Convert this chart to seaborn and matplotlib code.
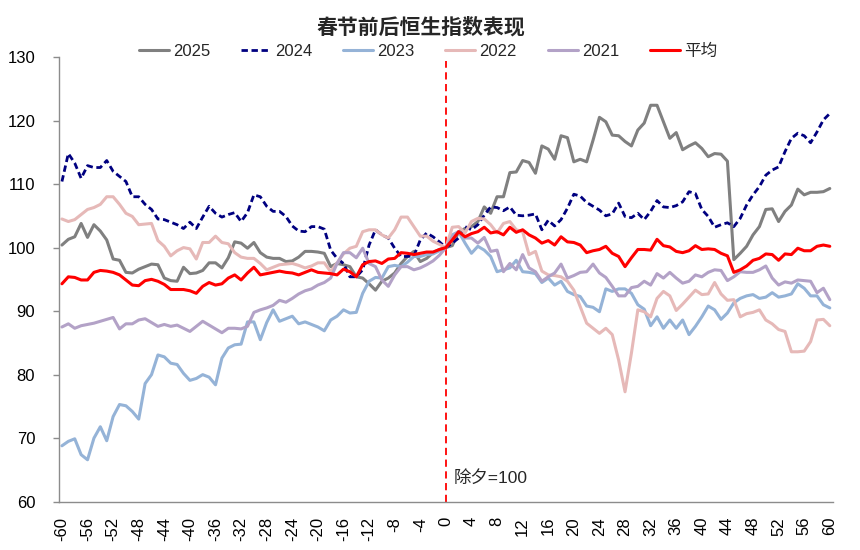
import numpy as np
import pandas as pd
import matplotlib
matplotlib.use("Agg")
import matplotlib.pyplot as plt
import seaborn as sns

# days around Chinese New Year's Eve (0 = 除夕)
days = list(range(-60, 61))

hsi_2025 = [
    100.4, 101.3, 101.7, 103.8, 101.6, 103.6, 102.6, 101.2, 98.2, 98.0,
    96.1, 96.0, 96.6, 97.0, 97.4, 97.3, 95.2, 94.8, 94.7, 96.9,
    95.9, 96.0, 96.4, 97.6, 97.6, 96.8, 98.4, 100.9, 100.7, 99.9,
    100.8, 99.2, 98.5, 98.3, 98.3, 97.8, 97.9, 98.5, 99.4, 99.4,
    99.3, 99.1, 97.0, 97.5, 97.3, 97.0, 95.4, 95.2, 94.3, 93.3,
    94.7, 95.2, 96.0, 97.5, 98.6, 99.4, 97.8, 98.3, 99.2, 99.7,
    100.0, 100.3, 102.5, 103.0, 103.3, 104.1, 106.4, 105.4, 108.0, 108.0,
    111.8, 111.9, 113.7, 113.4, 111.7, 116.0, 115.5, 113.9, 117.6, 117.3,
    113.5, 113.9, 113.5, 116.9, 120.5, 119.8, 117.7, 117.6, 116.7, 116.0,
    118.5, 119.6, 122.4, 122.4, 119.8, 117.2, 118.1, 115.4, 116.0, 116.5,
    115.6, 114.3, 114.8, 114.7, 113.6, 98.1, 99.1, 100.2, 102.0, 103.3,
    106.0, 106.1, 104.1, 105.7, 106.7, 109.2, 108.3, 108.7, 108.7, 108.8,
    109.3,
]

hsi_2024 = [
    110.4, 114.8, 113.3, 110.9, 112.9, 112.6, 112.6, 113.7, 112.0, 111.2,
    110.4, 108.0, 108.0, 106.8, 106.0, 104.5, 104.4, 104.0, 103.6, 103.0,
    104.0, 103.0, 104.8, 106.5, 105.4, 104.8, 105.2, 105.5, 104.1, 105.5,
    108.3, 108.0, 106.5, 105.7, 105.7, 104.9, 103.4, 102.6, 102.5, 103.3,
    103.3, 102.9, 99.6, 98.3, 97.5, 95.4, 95.4, 96.5, 100.4, 102.8,
    102.0, 101.5, 99.9, 98.6, 98.6, 98.7, 101.2, 102.3, 101.7, 100.9,
    100.0, 100.7, 101.5, 103.3, 102.8, 103.6, 105.1, 106.4, 106.3, 105.8,
    106.4, 105.1, 105.0, 105.1, 105.3, 102.8, 104.3, 103.4, 104.4, 106.2,
    108.4, 108.1, 107.1, 106.5, 105.9, 105.0, 105.3, 107.0, 104.9, 104.7,
    105.4, 104.4, 105.7, 107.4, 106.4, 106.3, 106.6, 107.2, 108.8, 108.5,
    106.0, 104.9, 103.2, 103.6, 103.9, 103.3, 104.6, 106.7, 108.3, 109.6,
    111.4, 112.2, 112.7, 115.1, 117.2, 118.0, 117.6, 116.5, 118.2, 120.1,
    121.1,
]

hsi_2023 = [
    68.8, 69.5, 69.9, 67.4, 66.6, 70.0, 71.8, 69.6, 73.4, 75.3,
    75.1, 74.2, 73.0, 78.6, 80.0, 83.1, 82.8, 81.8, 81.6, 80.2,
    79.1, 79.4, 80.0, 79.6, 78.4, 82.6, 84.2, 84.7, 84.8, 88.3,
    88.3, 85.5, 88.2, 90.2, 88.4, 88.8, 89.2, 88.0, 88.3, 87.9,
    87.5, 86.9, 88.6, 89.2, 90.2, 89.7, 89.8, 92.8, 94.7, 95.3,
    95.2, 97.0, 97.2, 97.0, 97.7, 98.6, 98.6, 98.9, 99.0, 99.5,
    100.0, 102.0, 102.5, 100.7, 99.1, 100.2, 99.6, 98.6, 96.2, 96.5,
    96.8, 98.0, 96.2, 96.1, 95.9, 94.5, 95.2, 94.1, 94.7, 93.1,
    92.6, 92.3, 90.8, 90.6, 89.9, 93.5, 93.1, 93.5, 93.5, 92.8,
    91.0, 90.3, 87.7, 89.1, 87.3, 88.6, 87.3, 88.6, 86.3, 87.6,
    89.1, 90.8, 90.2, 88.7, 89.7, 91.3, 92.0, 92.4, 92.6, 92.0,
    92.2, 92.9, 92.2, 92.4, 92.7, 94.3, 93.6, 92.4, 92.4, 91.0,
    90.5,
]

hsi_2022 = [
    104.5, 104.1, 104.4, 105.2, 106.0, 106.3, 106.8, 108.0, 108.0, 106.8,
    105.4, 104.9, 103.6, 103.7, 103.8, 101.1, 100.2, 98.7, 99.5, 100.0,
    99.8, 98.2, 100.8, 100.8, 101.8, 100.8, 100.6, 99.2, 98.5, 98.3,
    98.3, 97.5, 96.5, 96.9, 97.3, 97.4, 97.5, 97.2, 96.8, 97.1,
    97.6, 97.6, 96.2, 97.6, 99.0, 99.9, 100.2, 102.5, 102.8, 102.8,
    102.0, 101.5, 102.8, 104.8, 104.8, 103.3, 101.8, 101.8, 101.0, 100.5,
    100.0, 103.2, 103.3, 102.3, 104.1, 104.6, 104.5, 103.6, 102.3, 103.8,
    104.1, 102.8, 102.5, 98.9, 99.4, 96.3, 95.7, 95.6, 95.4, 94.7,
    93.3, 90.7, 88.1, 87.3, 86.5, 87.3, 86.3, 82.3, 77.3, 83.4,
    90.2, 89.9, 89.1, 92.0, 93.1, 92.4, 90.1, 91.1, 92.2, 93.3,
    92.6, 92.7, 94.5, 92.7, 91.7, 91.8, 89.1, 89.6, 89.8, 90.2,
    88.6, 88.0, 87.1, 86.8, 83.6, 83.6, 83.7, 85.2, 88.6, 88.7,
    87.7,
]

hsi_2021 = [
    87.5, 88.0, 87.3, 87.7, 87.9, 88.1, 88.4, 88.7, 89.0, 87.2,
    88.0, 88.0, 88.6, 88.8, 88.2, 87.6, 87.9, 87.6, 87.8, 87.3,
    86.8, 87.6, 88.4, 87.8, 87.2, 86.6, 87.3, 87.3, 87.2, 87.6,
    89.8, 90.2, 90.5, 90.9, 91.7, 91.4, 92.0, 92.7, 93.2, 93.5,
    94.1, 94.5, 95.2, 97.5, 99.2, 99.2, 98.4, 99.9, 97.5, 97.0,
    94.9, 93.9, 95.7, 97.0, 97.0, 96.5, 96.8, 97.3, 97.9, 98.8,
    100.0, 101.7, 102.5, 101.5, 101.5, 100.7, 101.6, 99.4, 99.6, 96.2,
    97.5, 96.5, 98.9, 96.8, 96.2, 94.7, 95.4, 96.0, 97.4, 95.2,
    95.6, 96.1, 96.2, 97.4, 96.0, 95.3, 93.9, 92.4, 92.4, 93.7,
    93.9, 94.7, 94.1, 95.9, 95.2, 96.1, 95.2, 94.4, 94.7, 95.7,
    95.4, 96.1, 96.5, 96.4, 94.8, 95.4, 96.2, 96.1, 96.1, 96.5,
    97.1, 95.2, 94.1, 94.6, 94.4, 94.9, 94.8, 94.7, 92.9, 93.6,
    91.8,
]

hsi_avg = [
    94.3, 95.4, 95.3, 94.9, 94.9, 96.1, 96.4, 96.3, 96.1, 95.7,
    94.9, 94.1, 94.0, 94.8, 95.0, 94.7, 94.2, 93.4, 93.4, 93.4,
    93.2, 92.8, 93.9, 94.5, 94.1, 94.3, 95.2, 95.7, 94.9, 96.0,
    96.9, 95.7, 95.9, 96.1, 96.3, 96.1, 96.0, 95.7, 96.1, 96.5,
    96.1, 96.0, 95.9, 95.7, 96.6, 96.2, 95.4, 97.3, 97.8, 97.9,
    97.5, 98.2, 98.3, 99.2, 99.1, 98.9, 99.1, 99.3, 99.3, 99.7,
    100.0, 101.2, 102.5, 101.7, 102.2, 102.5, 103.2, 102.3, 102.5, 102.0,
    103.2, 102.4, 102.8, 102.0, 101.5, 100.7, 101.1, 100.4, 101.7, 100.9,
    100.8, 100.4, 99.2, 99.5, 99.7, 100.2, 99.1, 98.6, 97.0, 98.4,
    99.7, 99.7, 99.6, 101.3, 100.3, 100.1, 99.4, 99.2, 99.5, 100.3,
    99.7, 99.8, 99.7, 99.1, 98.7, 96.1, 96.5, 97.1, 98.0, 98.3,
    99.0, 98.9, 98.0, 99.0, 98.9, 99.9, 99.5, 99.5, 100.2, 100.4,
    100.2,
]

series_names = ["2025", "2024", "2023", "2022", "2021", "平均"]
series_values = [hsi_2025, hsi_2024, hsi_2023, hsi_2022, hsi_2021, hsi_avg]
colors = ["#808080", "#000080", "#95B3D7", "#E6B9B8", "#B3A2C7", "#FF0000"]

x_ticks = list(range(-60, 61, 4))
y_ticks = list(range(60, 131, 10))

df = pd.DataFrame({"day": days})
for name, vals in zip(series_names, series_values):
    df[name] = vals
long_df = df.melt(id_vars="day", var_name="series", value_name="value")

sns.set_theme(style="white")
plt.rcParams["font.family"] = ["Liberation Sans", "Noto Sans CJK SC", "DejaVu Sans"]
plt.rcParams["axes.unicode_minus"] = False

fig = plt.figure(figsize=(8.6, 5.5), dpi=100)
ax = fig.add_axes([0.0683, 0.0878, 0.9003, 0.8086])

# reference line at New Year's Eve
ax.axvline(0, ymin=0, ymax=0.99, color="#FF0000", lw=1.3,
           ls=(0, (4, 2.5)), zorder=1.5)

for i, (name, color) in enumerate(zip(series_names, colors)):
    sub = long_df[long_df["series"] == name]
    ls = (0, (2.3, 1.3)) if name == "2024" else "-"
    sns.lineplot(data=sub, x="day", y="value", color=color,
                 lw=2.0 if name == "2024" else 2.2,
                 linestyle=ls, label=name, errorbar=None, ax=ax,
                 zorder=2 + i * 0.1)

handles, labels = ax.get_legend_handles_labels()
ax.get_legend().remove()
fig.legend(handles, labels, loc="center", bbox_to_anchor=(0.4977, 0.907),
           ncol=6, frameon=False, fontsize=12, handlelength=1.8,
           handletextpad=0.25, columnspacing=1.85)

ax.set_xlim(-60.5, 60.5)
ax.set_ylim(60, 130)
ax.set_xticks(x_ticks)
ax.set_yticks(y_ticks)
ax.set_xlabel("")
ax.set_ylabel("")
ax.tick_params(axis="x", rotation=90, length=0, pad=11, labelsize=12,
               colors="black")
ax.tick_params(axis="y", direction="out", length=4, width=1, pad=13,
               labelsize=12, color="#8c8c8c", labelcolor="black")
ax.tick_params(left=True)
for side in ["top", "right"]:
    ax.spines[side].set_visible(False)
for side in ["left", "bottom"]:
    ax.spines[side].set_color("#8c8c8c")
    ax.spines[side].set_linewidth(1)

ax.text(1.2, 63.8, "除夕=100", fontsize=12.5, ha="left", va="center")

fig.text(0.4895, 0.951, "春节前后恒生指数表现", ha="center", va="center",
         fontsize=15, fontweight="bold")

fig.savefig("out.png", dpi=100, facecolor="white")
